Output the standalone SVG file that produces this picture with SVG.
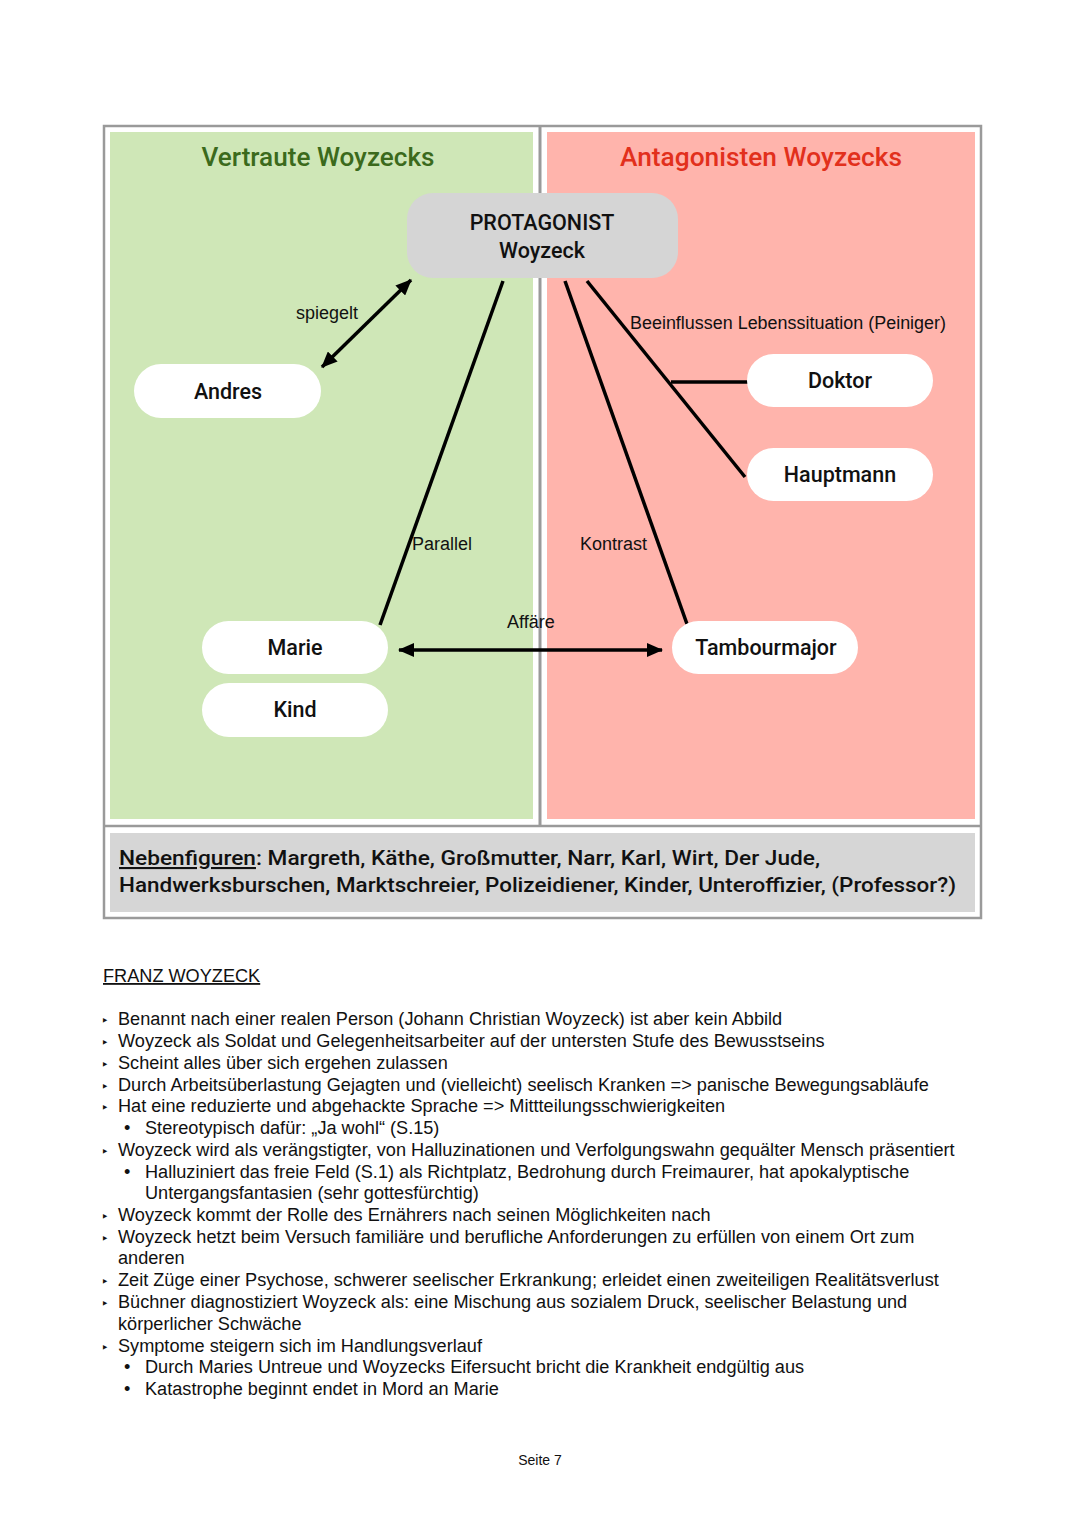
<svg xmlns="http://www.w3.org/2000/svg" width="1080" height="1527" viewBox="0 0 1080 1527">
<style>
.node{fill:#fff}
.nt{font-family:Roboto,"Liberation Sans",Arial,sans-serif;font-weight:500;font-size:21.5px;fill:#111;text-anchor:middle}
.lbl{font-family:"Liberation Sans",Arial,sans-serif;font-size:18px;fill:#111}
.con{stroke:#000;stroke-width:3.5;fill:none}
.body{font-family:"Liberation Sans",Arial,sans-serif;font-size:18.15px;fill:#111}
.tri{font-family:"DejaVu Sans",sans-serif;font-size:13px;fill:#111}
.title{font-family:Roboto,"Liberation Sans",Arial,sans-serif;font-weight:500;font-size:25px;text-anchor:middle}
</style>
<defs>
<marker id="ah" viewBox="0 0 16 14" refX="15" refY="7" markerWidth="16" markerHeight="14" markerUnits="userSpaceOnUse" orient="auto-start-reverse">
<path d="M0,0 L16,7 L0,14 Z" fill="#000"/>
</marker>
</defs>
<rect width="1080" height="1527" fill="#fff"/>
<g id="frame">
<rect x="104" y="126" width="877" height="792" fill="#fff" stroke="#9a9a9a" stroke-width="2.5"/>
<line x1="540" y1="126" x2="540" y2="826" stroke="#9a9a9a" stroke-width="3"/>
<line x1="104" y1="826" x2="981" y2="826" stroke="#9a9a9a" stroke-width="2.5"/>
<rect x="110" y="132" width="423" height="687" fill="#cfe7b7"/>
<rect x="547" y="132" width="428" height="687" fill="#ffb4ac"/>
<rect x="110" y="833" width="865" height="79" fill="#d6d6d6"/>
<text class="title" x="318" y="166" fill="#3b6a1c" textLength="233" lengthAdjust="spacingAndGlyphs">Vertraute Woyzecks</text>
<text class="title" x="761" y="166" fill="#e2301c" textLength="282" lengthAdjust="spacingAndGlyphs">Antagonisten Woyzecks</text>
</g>
<g id="connectors">
<line class="con" x1="411" y1="280" x2="322" y2="367" marker-start="url(#ah)" marker-end="url(#ah)"/>
<line class="con" x1="503" y1="281" x2="380" y2="625"/>
<line class="con" x1="565" y1="281" x2="687" y2="624"/>
<line class="con" x1="587" y1="281" x2="745" y2="477"/>
<line class="con" x1="671" y1="382" x2="748" y2="382"/>
<line class="con" x1="399" y1="650" x2="662" y2="650" marker-start="url(#ah)" marker-end="url(#ah)"/>
<text class="lbl" x="296" y="319">spiegelt</text>
<text class="lbl" x="630" y="329" textLength="316" lengthAdjust="spacingAndGlyphs">Beeinflussen Lebenssituation (Peiniger)</text>
<text class="lbl" x="412" y="550">Parallel</text>
<text class="lbl" x="580" y="550">Kontrast</text>
<text class="lbl" x="507" y="628">Affäre</text>
</g>
<g id="protagonist">
<rect x="407" y="193" width="271" height="85" rx="26" fill="#d5d5d5"/>
<text class="nt" x="542" y="230">PROTAGONIST</text>
<text class="nt" x="542" y="258">Woyzeck</text>
</g>
<g id="andres"><rect class="node" x="134" y="364" width="187" height="54" rx="27"/><text class="nt" x="228" y="399">Andres</text></g>
<g id="doktor"><rect class="node" x="747" y="354" width="186" height="53" rx="26.5"/><text class="nt" x="840" y="388">Doktor</text></g>
<g id="hauptmann"><rect class="node" x="747" y="448" width="186" height="53" rx="26.5"/><text class="nt" x="840" y="482">Hauptmann</text></g>
<g id="marie"><rect class="node" x="202" y="621" width="186" height="53" rx="26.5"/><text class="nt" x="295" y="655">Marie</text></g>
<g id="kind"><rect class="node" x="202" y="683" width="186" height="54" rx="27"/><text class="nt" x="295" y="717">Kind</text></g>
<g id="tambourmajor"><rect class="node" x="672" y="621" width="186" height="53" rx="26.5"/><text class="nt" x="766" y="655">Tambourmajor</text></g>
<g id="nebenfiguren" font-family="Roboto,'Liberation Sans',Arial,sans-serif" font-weight="500" font-size="21" fill="#111">
<text x="119" y="865" textLength="701" lengthAdjust="spacingAndGlyphs"><tspan text-decoration="underline">Nebenfiguren</tspan>: Margreth, Käthe, Großmutter, Narr, Karl, Wirt, Der Jude,</text>
<text x="119" y="892" textLength="837" lengthAdjust="spacingAndGlyphs">Handwerksburschen, Marktschreier, Polizeidiener, Kinder, Unteroffizier, (Professor?)</text>
</g>
<g id="text">
<text class="body" x="103" y="982" text-decoration="underline">FRANZ WOYZECK</text>
<g class="body">
<text class="tri" x="101" y="1025">‣</text><text x="118" y="1025">Benannt nach einer realen Person (Johann Christian Woyzeck) ist aber kein Abbild</text>
<text class="tri" x="101" y="1047">‣</text><text x="118" y="1047">Woyzeck als Soldat und Gelegenheitsarbeiter auf der untersten Stufe des Bewusstseins</text>
<text class="tri" x="101" y="1069">‣</text><text x="118" y="1069">Scheint alles über sich ergehen zulassen</text>
<text class="tri" x="101" y="1091">‣</text><text x="118" y="1091">Durch Arbeitsüberlastung Gejagten und (vielleicht) seelisch Kranken =&gt; panische Bewegungsabläufe</text>
<text class="tri" x="101" y="1112">‣</text><text x="118" y="1112">Hat eine reduzierte und abgehackte Sprache =&gt; Mittteilungsschwierigkeiten</text>
<text x="124" y="1134">•</text><text x="145" y="1134">Stereotypisch dafür: „Ja wohl“ (S.15)</text>
<text class="tri" x="101" y="1156">‣</text><text x="118" y="1156">Woyzeck wird als verängstigter, von Halluzinationen und Verfolgungswahn gequälter Mensch präsentiert</text>
<text x="124" y="1178">•</text><text x="145" y="1178">Halluziniert das freie Feld (S.1) als Richtplatz, Bedrohung durch Freimaurer, hat apokalyptische</text>
<text x="145" y="1199">Untergangsfantasien (sehr gottesfürchtig)</text>
<text class="tri" x="101" y="1221">‣</text><text x="118" y="1221">Woyzeck kommt der Rolle des Ernährers nach seinen Möglichkeiten nach</text>
<text class="tri" x="101" y="1243">‣</text><text x="118" y="1243">Woyzeck hetzt beim Versuch familiäre und berufliche Anforderungen zu erfüllen von einem Ort zum</text>
<text x="118" y="1264">anderen</text>
<text class="tri" x="101" y="1286">‣</text><text x="118" y="1286">Zeit Züge einer Psychose, schwerer seelischer Erkrankung; erleidet einen zweiteiligen Realitätsverlust</text>
<text class="tri" x="101" y="1308">‣</text><text x="118" y="1308">Büchner diagnostiziert Woyzeck als: eine Mischung aus sozialem Druck, seelischer Belastung und</text>
<text x="118" y="1330">körperlicher Schwäche</text>
<text class="tri" x="101" y="1352">‣</text><text x="118" y="1352">Symptome steigern sich im Handlungsverlauf</text>
<text x="124" y="1373">•</text><text x="145" y="1373">Durch Maries Untreue und Woyzecks Eifersucht bricht die Krankheit endgültig aus</text>
<text x="124" y="1395">•</text><text x="145" y="1395">Katastrophe beginnt endet in Mord an Marie</text>
</g>
<text x="540" y="1465" font-family="'Liberation Sans',Arial,sans-serif" font-size="14" fill="#111" text-anchor="middle">Seite 7</text>
</g>
</svg>
